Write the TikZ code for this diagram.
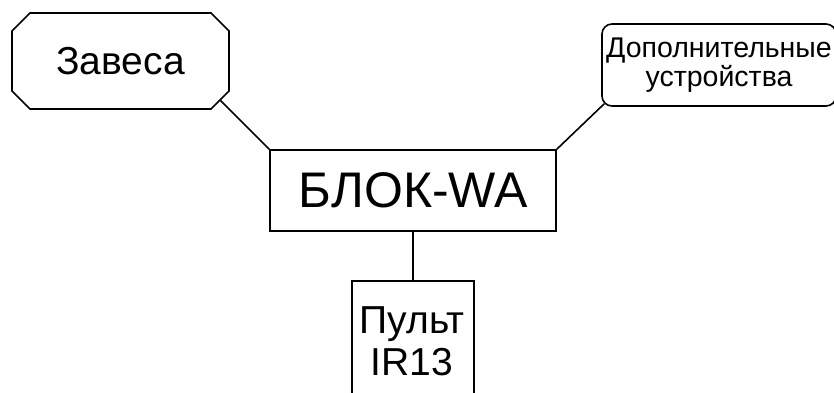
\documentclass[tikz,border=0pt]{standalone}
\usepackage{fontspec}
\setmainfont{Liberation Sans}
\usetikzlibrary{shapes.misc,calc}
\begin{document}
\begin{tikzpicture}[x=1pt,y=-1pt,
  lw/.style={line width=1.6pt},
  boxbase/.style={draw,lw,inner sep=0pt,align=center},
  chbox/.style={boxbase,chamfered rectangle,chamfered rectangle xsep=9pt,chamfered rectangle ysep=9pt},
  rbox/.style={boxbase,rectangle,rounded corners=10pt},
  pbox/.style={boxbase,rectangle},
  txt/.style={inner sep=0pt,anchor=base},
  link/.style={lw}]
\useasboundingbox (0,0) rectangle (834,392);
\clip (0,0) rectangle (834,392);
\node[chbox,minimum width=217pt,minimum height=96pt,font=\fontsize{39}{44}\selectfont] (zav) at (120.5,61) {Завеса};
\node[rbox,minimum width=234pt,minimum height=82pt,font=\fontsize{28.5}{29}\selectfont] (dop) at (719,65) {Дополнительные\\устройства};
\node[pbox,minimum width=286pt,minimum height=81pt,font=\fontsize{50}{60}\selectfont] (blok) at (413,190.5) {БЛОК-WA};
\node[pbox,minimum width=122pt,minimum height=150pt,anchor=north] (pult) at (413,280) {};
\node[txt,font=\fontsize{39}{42}\selectfont] (pult1) at (412,333) {Пульт};
\node[txt,font=\fontsize{39}{42}\selectfont] (pult2) at (412,375) {IR13};
\coordinate (zc) at ($(zav.before south east)!0.5!(zav.after south east)$);
\coordinate (dc) at ($(dop.south west)+(3,-3)$);
\draw[link] (zc) -- (blok.north west);
\draw[link] (dc) -- (blok.north east);
\draw[link] (blok.south) -- (pult.north);
\end{tikzpicture}
\end{document}
